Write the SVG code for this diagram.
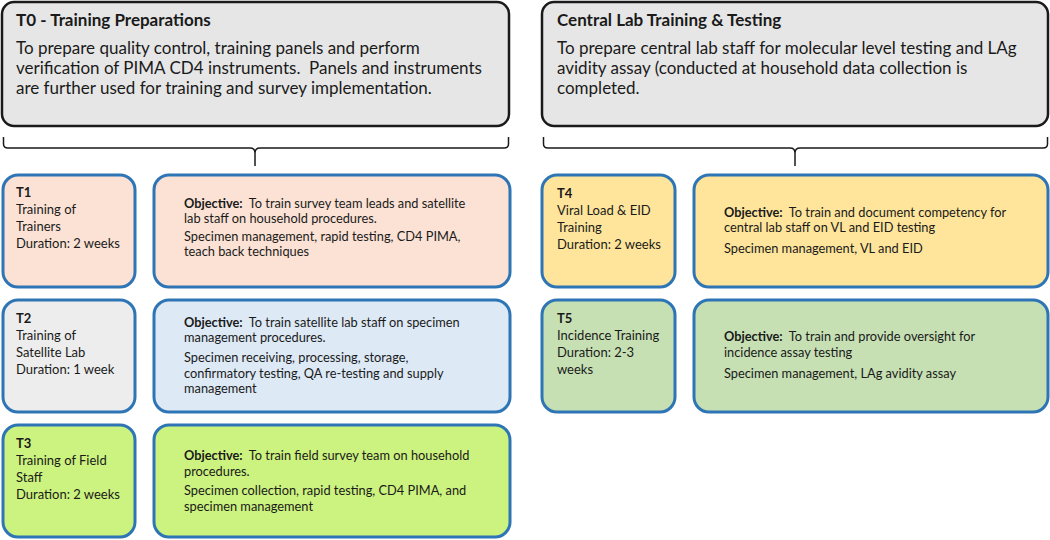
<svg xmlns="http://www.w3.org/2000/svg" width="1050" height="540" viewBox="0 0 1050 540">
<style>
text{font-family:Lato,"Noto Sans","Liberation Sans",sans-serif;fill:#1a1a1a;white-space:pre}
.hdr{fill:#e6e6e6;stroke:#1a1a1a;stroke-width:2.5}
.ht{font-size:17px;font-weight:bold}
.hb{font-size:17px}
.box{stroke:#2e75b6;stroke-width:3}
.t{font-size:13px}
.o{font-size:12.8px}
.b{font-weight:bold}
.brace{fill:none;stroke:#1a1a1a;stroke-width:1.5}
</style>
<rect width="1050" height="540" fill="#ffffff"/>
<g id="T0">
<rect class="hdr" x="2" y="2" width="507" height="124" rx="12"/>
<text class="ht" x="16" y="26">T0 - Training Preparations</text>
<text class="hb" x="16" y="54">To prepare quality control, training panels and perform</text>
<text class="hb" x="16" y="74">verification of PIMA CD4 instruments.  Panels and instruments</text>
<text class="hb" x="16" y="94">are further used for training and survey implementation.</text>
</g>
<g id="central">
<rect class="hdr" x="542" y="2" width="506" height="124" rx="12"/>
<text class="ht" x="557" y="26">Central Lab Training &amp; Testing</text>
<text class="hb" x="557" y="54">To prepare central lab staff for molecular level testing and LAg</text>
<text class="hb" x="557" y="74">avidity assay (conducted at household data collection is</text>
<text class="hb" x="557" y="94">completed.</text>
</g>
<g id="connectors">
<path class="brace" d="M3.5,137 V144 Q3.5,148 8,148 H250 Q255,148 255,153 V166 M255,153 Q255,148 260,148 H504 Q508.5,148 508.5,144 V137"/>
<path class="brace" d="M543.5,137 V144 Q543.5,148 548,148 H790 Q795,148 795,153 V166 M795,153 Q795,148 800,148 H1043 Q1047.5,148 1047.5,144 V137"/>
</g>
<g id="T1">
<rect class="box" x="3" y="175" width="132" height="112" rx="15" fill="#fbe2d5"/>
<text class="t" x="16" y="197"><tspan class="b">T1</tspan><tspan x="16" dy="17">Training of</tspan><tspan x="16" dy="17">Trainers</tspan><tspan x="16" dy="17">Duration: 2 weeks</tspan></text>
</g>
<g id="T1obj">
<rect class="box" x="154" y="175" width="356" height="112" rx="15" fill="#fbe2d5"/>
<text class="o" x="184" y="208"><tspan class="b">Objective:</tspan>  To train survey team leads and satellite</text>
<text class="o" x="184" y="223">lab staff on household procedures.</text>
<text class="o" x="184" y="241">Specimen management, rapid testing, CD4 PIMA,</text>
<text class="o" x="184" y="256">teach back techniques</text>
</g>
<g id="T2">
<rect class="box" x="3" y="300" width="132" height="112" rx="15" fill="#ededed"/>
<text class="t" x="16" y="323"><tspan class="b">T2</tspan><tspan x="16" dy="17">Training of</tspan><tspan x="16" dy="17">Satellite Lab</tspan><tspan x="16" dy="17">Duration: 1 week</tspan></text>
</g>
<g id="T2obj">
<rect class="box" x="154" y="300" width="356" height="112" rx="15" fill="#dde9f5"/>
<text class="o" x="184" y="327"><tspan class="b">Objective:</tspan>  To train satellite lab staff on specimen</text>
<text class="o" x="184" y="342">management procedures.</text>
<text class="o" x="184" y="362">Specimen receiving, processing, storage,</text>
<text class="o" x="184" y="378">confirmatory testing, QA re-testing and supply</text>
<text class="o" x="184" y="393">management</text>
</g>
<g id="T3">
<rect class="box" x="3" y="425" width="132" height="112" rx="15" fill="#ccf27f"/>
<text class="t" x="16" y="448"><tspan class="b">T3</tspan><tspan x="16" dy="17">Training of Field</tspan><tspan x="16" dy="17">Staff</tspan><tspan x="16" dy="17">Duration: 2 weeks</tspan></text>
</g>
<g id="T3obj">
<rect class="box" x="154" y="425" width="356" height="112" rx="15" fill="#ccf27f"/>
<text class="o" x="184" y="460"><tspan class="b">Objective:</tspan>  To train field survey team on household</text>
<text class="o" x="184" y="476">procedures.</text>
<text class="o" x="184" y="495">Specimen collection, rapid testing, CD4 PIMA, and</text>
<text class="o" x="184" y="511">specimen management</text>
</g>
<g id="T4">
<rect class="box" x="542" y="175" width="133" height="112" rx="15" fill="#fee59b"/>
<text class="t" x="557" y="198"><tspan class="b">T4</tspan><tspan x="557" dy="17">Viral Load &amp; EID</tspan><tspan x="557" dy="17">Training</tspan><tspan x="557" dy="17">Duration: 2 weeks</tspan></text>
</g>
<g id="T4obj">
<rect class="box" x="694" y="175" width="354" height="112" rx="15" fill="#fee59b"/>
<text class="o" x="724" y="217"><tspan class="b">Objective:</tspan>  To train and document competency for</text>
<text class="o" x="724" y="232">central lab staff on VL and EID testing</text>
<text class="o" x="724" y="253">Specimen management, VL and EID</text>
</g>
<g id="T5">
<rect class="box" x="542" y="300" width="133" height="112" rx="15" fill="#c6e0b4"/>
<text class="t" x="557" y="323"><tspan class="b">T5</tspan><tspan x="557" dy="17">Incidence Training</tspan><tspan x="557" dy="17">Duration: 2-3</tspan><tspan x="557" dy="17">weeks</tspan></text>
</g>
<g id="T5obj">
<rect class="box" x="694" y="300" width="354" height="112" rx="15" fill="#c6e0b4"/>
<text class="o" x="724" y="341"><tspan class="b">Objective:</tspan>  To train and provide oversight for</text>
<text class="o" x="724" y="357">incidence assay testing</text>
<text class="o" x="724" y="378">Specimen management, LAg avidity assay</text>
</g>
</svg>
